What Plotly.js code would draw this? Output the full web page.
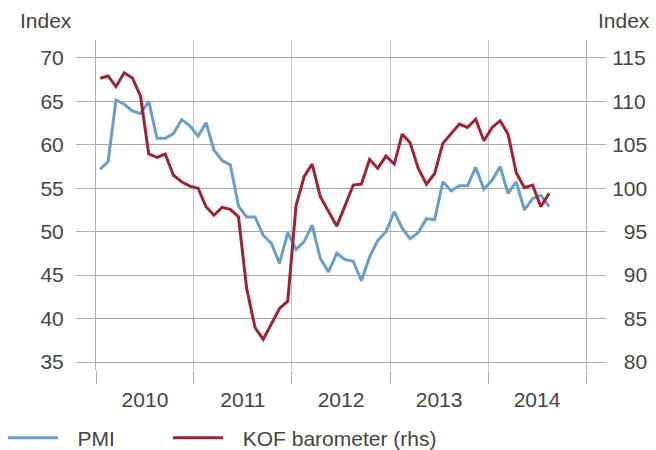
<!DOCTYPE html>
<html><head><meta charset="utf-8">
<script src="https://cdn.plot.ly/plotly-3.0.1.min.js"></script>
<style>html,body{margin:0;padding:0;background:#fff}#chart{width:656px;height:450px}</style>
</head><body><div id="chart"></div>
<script>
const months = [
 "2010-01","2010-02","2010-03","2010-04","2010-05","2010-06","2010-07","2010-08","2010-09","2010-10","2010-11","2010-12",
 "2011-01","2011-02","2011-03","2011-04","2011-05","2011-06","2011-07","2011-08","2011-09","2011-10","2011-11","2011-12",
 "2012-01","2012-02","2012-03","2012-04","2012-05","2012-06","2012-07","2012-08","2012-09","2012-10","2012-11","2012-12",
 "2013-01","2013-02","2013-03","2013-04","2013-05","2013-06","2013-07","2013-08","2013-09","2013-10","2013-11","2013-12",
 "2014-01","2014-02","2014-03","2014-04","2014-05","2014-06","2014-07","2014-08"
];
const pmi = [
 57.2,58.05,65.16,64.67,63.9,63.6,65.0,60.75,60.75,61.3,62.9,62.2,
 61.0,62.55,59.4,58.2,57.7,52.95,51.7,51.7,49.6,48.65,46.35,49.9,
 47.96,48.85,50.76,46.9,45.38,47.5,46.8,46.6,44.35,47.1,49.0,50.0,
 52.3,50.4,49.2,49.9,51.5,51.4,55.75,54.7,55.3,55.3,57.4,54.9,
 55.95,57.5,54.4,55.75,52.5,53.8,54.2,52.9
];
const kof = [
 112.66,112.93,111.7,113.3,112.7,110.6,103.95,103.56,103.94,101.5,100.75,100.25,
 100.0,97.87,96.9,97.8,97.57,96.72,88.47,83.97,82.6,84.35,86.16,87.0,
 98.0,101.33,102.79,99.03,97.3,95.65,97.95,100.37,100.48,103.33,102.29,103.7,
 102.79,106.24,105.24,102.29,100.48,101.7,105.17,106.24,107.4,107.0,107.94,105.47,
 107.0,107.78,106.24,101.79,100.06,100.37,97.87,99.41
];
const leftTicks = [35,40,45,50,55,60,65,70];
const rightTicks = [80,85,90,95,100,105,110,115];
const seriesNames = ["PMI","KOF barometer (rhs)"];
const axisTitle = "Index";

const FONT = {family: "'Liberation Sans', Arial, sans-serif", size: 21, color: "#444444"};
const rightText = rightTicks.map(v => (v < 100 ? "\u2007" : "") + v);
const legendNames = seriesNames.map(s => "\u2002\u2009" + s);

const traces = [
 {x: months, y: pmi, name: legendNames[0], type: "scatter", mode: "lines",
  xperiod: "M1", xperiodalignment: "middle",
  line: {color: "#6a9ec6", width: 3}, yaxis: "y", legend: "legend"},
 {x: months, y: kof, name: legendNames[1], type: "scatter", mode: "lines",
  xperiod: "M1", xperiodalignment: "middle",
  line: {color: "#9b2436", width: 3}, yaxis: "y2", legend: "legend2"}
];

const legendBase = {orientation: "h", xanchor: "left", y: -0.206, yanchor: "middle",
  font: FONT, itemwidth: 50, bgcolor: "rgba(0,0,0,0)"};

const layout = {
 width: 656, height: 450,
 margin: {l: 96, r: 70, t: 40, b: 80, autoexpand: false},
 paper_bgcolor: "#ffffff", plot_bgcolor: "#ffffff",
 font: FONT,
 showlegend: true,
 legend: Object.assign({}, legendBase, {x: -0.19}),
 legend2: Object.assign({}, legendBase, {x: 0.147}),
 xaxis: {type: "date", range: ["2010-01-01", "2015-01-01"], dtick: "M12", tick0: "2010-01-01",
  ticklabelmode: "period", tickformat: "%Y", ticks: "outside", ticklen: 13, tickcolor: "#b0b0b0",
  showgrid: true, gridcolor: "#c4c4c4", gridwidth: 1, showline: false, zeroline: false,
  tickfont: FONT, ticklabelstandoff: -2, fixedrange: true},
 yaxis: {range: [34.08, 72.07], tickvals: leftTicks, ticks: "outside", ticklen: 19, tickcolor: "#b0b0b0",
  showline: true, linecolor: "#b0b0b0", linewidth: 1, showgrid: true, gridcolor: "#a8a8a8", gridwidth: 1,
  griddash: "solid", zeroline: false, tickfont: FONT, ticklabelstandoff: 8},
 yaxis2: {range: [79.08, 117.07], tickvals: rightTicks, ticktext: rightText, overlaying: "y", side: "right",
  ticks: "outside", ticklen: 19, tickcolor: "#b0b0b0", showline: true, linecolor: "#b0b0b0", linewidth: 1,
  showgrid: true, gridcolor: "#a8a8a8", gridwidth: 1, zeroline: false, tickfont: FONT, ticklabelstandoff: 2},
 annotations: [
  {text: axisTitle, xref: "paper", yref: "paper", x: -0.159, xanchor: "left", y: 1.0606, yanchor: "middle",
   showarrow: false, font: FONT},
  {text: axisTitle, xref: "paper", yref: "paper", x: 1.1347, xanchor: "right", y: 1.0606, yanchor: "middle",
   showarrow: false, font: FONT}
 ]
};
Plotly.newPlot("chart", traces, layout, {displayModeBar: false, staticPlot: true});
</script>
</body></html>
